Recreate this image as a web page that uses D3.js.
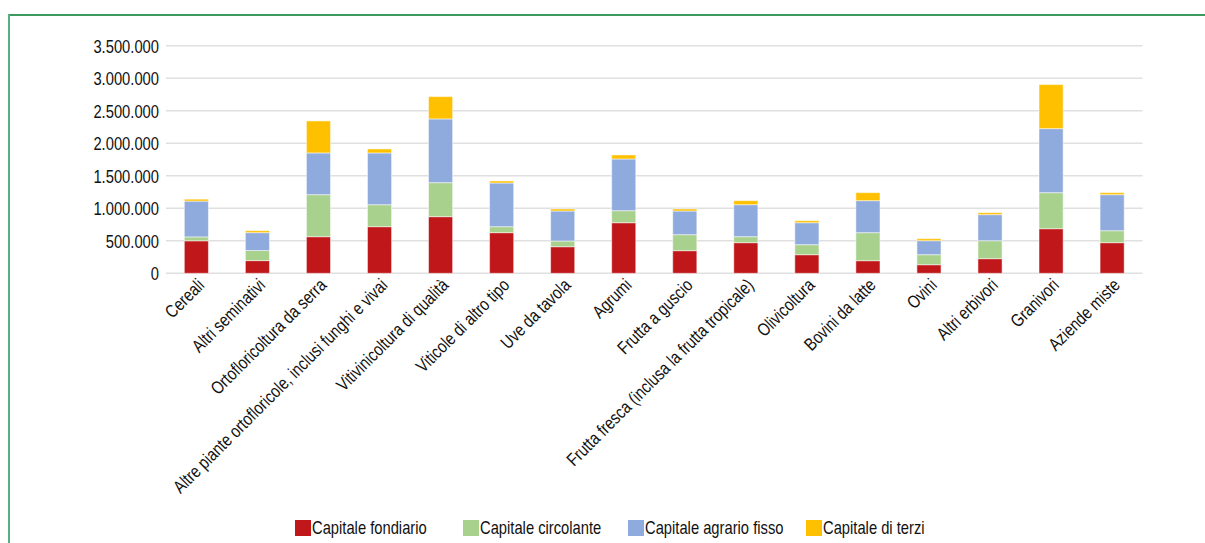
<!DOCTYPE html>
<html>
<head>
<meta charset="utf-8">
<script src="https://cdn.jsdelivr.net/npm/d3@7/dist/d3.min.js"></script>
<style>
  html, body { margin: 0; padding: 0; background: #fff; }
  svg { display: block; }
  text { font-family: "Liberation Sans", Arial, sans-serif; fill: #111; }
</style>
</head>
<body>
<svg id="chart" width="1205" height="543"></svg>
<script>
const categories = [
  "Cereali", "Altri seminativi", "Ortofloricoltura da serra",
  "Altre piante ortofloricole, inclusi funghi e vivai", "Vitivinicoltura di qualità",
  "Viticole di altro tipo", "Uve da tavola", "Agrumi", "Frutta a guscio",
  "Frutta fresca (inclusa la frutta tropicale)", "Olivicoltura", "Bovini da latte",
  "Ovini", "Altri erbivori", "Granivori", "Aziende miste"
];
const seriesNames = ["Capitale fondiario", "Capitale circolante", "Capitale agrario fisso", "Capitale di terzi"];
const capitaleFondiario   = [500000, 195000, 563000, 717000, 871000, 625000, 409000, 778000, 348000, 471000, 286000, 194000, 132000, 225000, 686000, 471000];
const capitaleCircolante  = [ 60000, 155000, 646000, 338000, 523000,  92000,  88000, 185000, 246000,  92000, 154000, 431000, 154000, 276000, 554000, 184000];
const capitaleAgrarioFisso= [550000, 275000, 642000, 796000, 980000, 672000, 461000, 795000, 364000, 492000, 338000, 492000, 215000, 401000, 985000, 554000];
const capitaleDiTerzi     = [ 30000,  30000, 492000,  61000, 343000,  31000,  31000,  62000,  31000,  62000,  31000, 123000,  31000,  30000, 677000,  31000];
const yTicks = [0, 500000, 1000000, 1500000, 2000000, 2500000, 3000000, 3500000];
const colors = ["#C0181A", "#A9D18E", "#8FAADC", "#FFC000"];

const seriesValues = [capitaleFondiario, capitaleCircolante, capitaleAgrarioFisso, capitaleDiTerzi];
const rows = categories.map((c, i) => {
  const r = { cat: c };
  seriesNames.forEach((s, j) => r[s] = seriesValues[j][i]);
  return r;
});

const NARROW = 0.82; // condense Liberation Sans to a narrow face
const svg = d3.select("#chart");

// frame
svg.append("line").attr("x1", 9).attr("x2", 1205).attr("y1", 15).attr("y2", 15)
  .attr("stroke", "#3b9a5e").attr("stroke-width", 2);
svg.append("line").attr("x1", 9).attr("x2", 9).attr("y1", 14).attr("y2", 543)
  .attr("stroke", "#56b07f").attr("stroke-width", 2);

const x = d3.scaleBand().domain(categories).range([166, 1142.5]).paddingInner(0.605).paddingOuter(0.3);
const y = d3.scaleLinear().domain([0, 3500000]).range([273.3, 45.7]);

const loc = d3.formatLocale({ decimal: ",", thousands: ".", grouping: [3], currency: ["€", ""] });
const fmt = loc.format(",d");

// gridlines
svg.append("g").selectAll("line").data(yTicks).join("line")
  .attr("x1", 166).attr("x2", 1142.5)
  .attr("y1", d => y(d)).attr("y2", d => y(d))
  .attr("stroke", "#e0e0e0").attr("stroke-width", 1.6);

// y axis
const yAxis = svg.append("g").attr("transform", "translate(159,0)")
  .call(d3.axisLeft(y).tickValues(yTicks).tickFormat(fmt).tickSize(0).tickPadding(0));
yAxis.select(".domain").remove();
yAxis.selectAll("text")
  .attr("x", 0).attr("dy", "0.35em")
  .attr("transform", `scale(${NARROW},1)`)
  .style("font-size", "18px")
  .style("font-family", "'Liberation Sans', Arial, sans-serif")
  .attr("fill", "#111");

// stacked bars
const stack = d3.stack().keys(seriesNames)(rows);
svg.append("g").selectAll("g").data(stack).join("g")
  .attr("fill", (d, i) => colors[i])
  .selectAll("rect").data(d => d.map(v => ({ v, cat: v.data.cat }))).join("rect")
  .attr("x", d => x(d.cat))
  .attr("width", x.bandwidth())
  .attr("y", d => y(d.v[1]))
  .attr("height", d => y(d.v[0]) - y(d.v[1]))
  .attr("stroke", "#ffffff").attr("stroke-opacity", 0.5).attr("stroke-width", 1);

// x axis labels
const xAxis = svg.append("g").attr("transform", `translate(0,${y(0)})`)
  .call(d3.axisBottom(x).tickSize(0).tickPadding(0));
xAxis.select(".domain").remove();
xAxis.selectAll("text")
  .style("font-size", "18px")
  .style("font-family", "'Liberation Sans', Arial, sans-serif")
  .attr("fill", "#111")
  .attr("text-anchor", "end")
  .attr("dy", "0")
  .attr("y", 0)
  .attr("transform", `translate(9,13) rotate(-45) scale(${NARROW},1)`);

// legend
const legendX = [295, 463, 628, 806];
const legend = svg.append("g").attr("transform", "translate(0,520)");
seriesNames.forEach((s, i) => {
  const g = legend.append("g").attr("transform", `translate(${legendX[i]},0)`);
  g.append("rect").attr("width", 16).attr("height", 16).attr("fill", colors[i]);
  g.append("text").attr("transform", `translate(17,14) scale(${NARROW},1)`)
    .style("font-size", "18px").text(s);
});
</script>
</body>
</html>
